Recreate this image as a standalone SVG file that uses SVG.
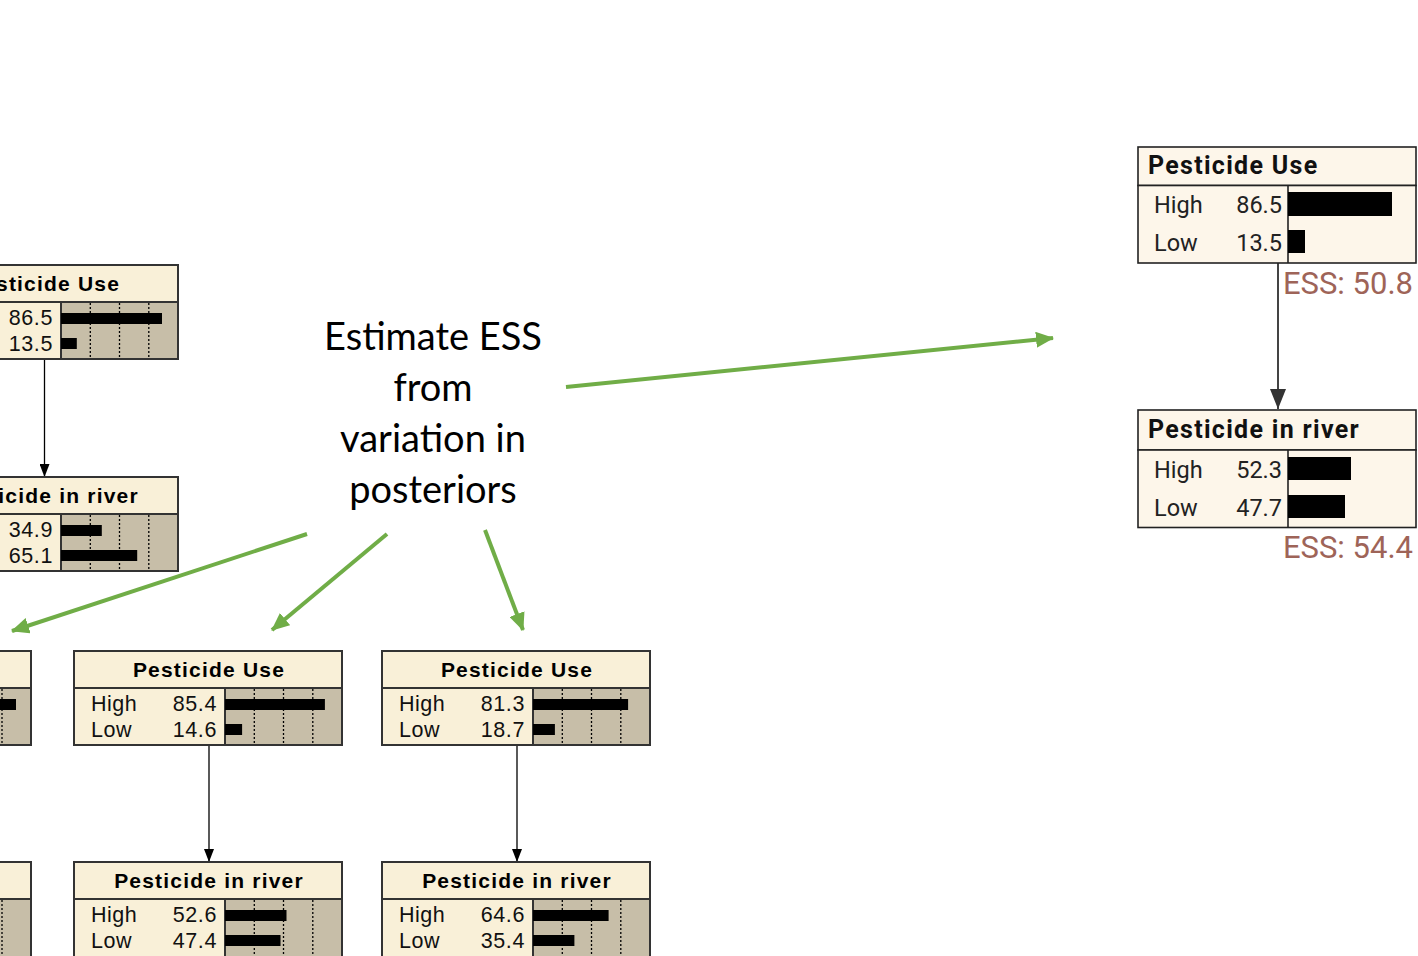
<svg xmlns="http://www.w3.org/2000/svg" width="1418" height="956" viewBox="0 0 1418 956">
<defs>
<marker id="blk" markerWidth="13" markerHeight="10" refX="13" refY="5" orient="auto" markerUnits="userSpaceOnUse" viewBox="0 0 13 10">
<path d="M0,0 L13,5 L0,10 Z" fill="#000"/>
</marker>
<marker id="grn" markerWidth="18" markerHeight="16" refX="17" refY="8" orient="auto" markerUnits="userSpaceOnUse" viewBox="0 0 18 16">
<path d="M0,0 L18,8 L0,16 Z" fill="#70ad47"/>
</marker>
<marker id="gry" markerWidth="20" markerHeight="16" refX="20" refY="8" orient="auto" markerUnits="userSpaceOnUse" viewBox="0 0 20 16">
<path d="M0,0 L20,8 L0,16 Z" fill="#333"/>
</marker>
</defs>
<style>
.ot{fill:#f9f0d8;stroke:#333;stroke-width:2}
.ob{fill:#c7bea8;stroke:#333;stroke-width:2}
.oc{fill:#f9f0d8;stroke:#333;stroke-width:2}
.dot{stroke:#000;stroke-width:1.3;stroke-dasharray:2,2}
.ttl{font-family:"Liberation Sans",Arial,sans-serif;font-weight:bold;font-size:21px;letter-spacing:1.2px;fill:#000;text-anchor:middle}
.lbl{font-family:"Liberation Sans",Arial,sans-serif;font-size:21.5px;letter-spacing:0.5px;fill:#111}
.num{font-family:"Liberation Sans",Arial,sans-serif;font-size:21.5px;letter-spacing:0.6px;fill:#111;text-anchor:end}
.nt{fill:#fdf6ea;stroke:#222;stroke-width:1.6}
.nttl{font-family:Roboto,"Liberation Sans",sans-serif;font-weight:bold;font-size:25px;letter-spacing:1.3px;fill:#111}
.nlbl{font-family:Roboto,"Liberation Sans",sans-serif;font-size:23.5px;fill:#222}
.nnum{font-family:Roboto,"Liberation Sans",sans-serif;font-size:23.5px;fill:#222;text-anchor:end}
.ess{font-family:Roboto,"Liberation Sans",sans-serif;font-size:31px;fill:#9e6458;text-anchor:end}
.big{font-family:Lato,"Open Sans",sans-serif;font-size:38px;fill:#000;text-anchor:middle}
</style>
<rect width="1418" height="956" fill="#fff"/>

<g id="connectors">
<line x1="44.5" y1="359" x2="44.5" y2="477" stroke="#000" stroke-width="1.3" marker-end="url(#blk)"/>
<line x1="209" y1="745" x2="209" y2="862" stroke="#000" stroke-width="1.3" marker-end="url(#blk)"/>
<line x1="517" y1="745" x2="517" y2="862" stroke="#000" stroke-width="1.3" marker-end="url(#blk)"/>
<line x1="1278" y1="263" x2="1278" y2="409" stroke="#444" stroke-width="2" marker-end="url(#gry)"/>
<line x1="566" y1="387" x2="1053" y2="338" stroke="#70ad47" stroke-width="4" marker-end="url(#grn)"/>
<line x1="307" y1="534" x2="12" y2="631" stroke="#70ad47" stroke-width="4" marker-end="url(#grn)"/>
<line x1="387" y1="534" x2="272" y2="630" stroke="#70ad47" stroke-width="4" marker-end="url(#grn)"/>
<line x1="485" y1="530" x2="523" y2="630" stroke="#70ad47" stroke-width="4" marker-end="url(#grn)"/>
</g>

<g id="label-estimate">
<text class="big" x="433" y="350">Estimate ESS</text>
<text class="big" x="433" y="401">from</text>
<text class="big" x="433" y="452">variation in</text>
<text class="big" x="433" y="503">posteriors</text>
</g>

<g id="node-use-left">
<rect class="ot" x="-90" y="265" width="268" height="37"/>
<rect class="oc" x="-90" y="302" width="151" height="57"/>
<rect class="ob" x="61" y="302" width="117" height="57"/>
<line class="dot" x1="90.3" y1="303" x2="90.3" y2="358"/>
<line class="dot" x1="119.5" y1="303" x2="119.5" y2="358"/>
<line class="dot" x1="148.8" y1="303" x2="148.8" y2="358"/>
<rect x="61" y="313" width="101" height="11" fill="#000"/>
<rect x="61" y="338" width="15.8" height="11" fill="#000"/>
<text class="ttl" x="44" y="291">Pesticide Use</text>
<text class="num" x="53" y="325">86.5</text>
<text class="num" x="53" y="351">13.5</text>
</g>

<g id="node-river-left">
<rect class="ot" x="-90" y="477" width="268" height="37"/>
<rect class="oc" x="-90" y="514" width="151" height="57"/>
<rect class="ob" x="61" y="514" width="117" height="57"/>
<line class="dot" x1="90.3" y1="515" x2="90.3" y2="570"/>
<line class="dot" x1="119.5" y1="515" x2="119.5" y2="570"/>
<line class="dot" x1="148.8" y1="515" x2="148.8" y2="570"/>
<rect x="61" y="525" width="40.8" height="11" fill="#000"/>
<rect x="61" y="550" width="76.2" height="11" fill="#000"/>
<text class="ttl" x="44" y="503">Pesticide in river</text>
<text class="num" x="53" y="537">34.9</text>
<text class="num" x="53" y="563">65.1</text>
</g>

<g id="node-use-partial">
<rect class="ot" x="-237" y="651" width="268" height="37"/>
<rect class="oc" x="-237" y="688" width="151" height="57"/>
<rect class="ob" x="-86" y="688" width="117" height="57"/>
<line class="dot" x1="2" y1="689" x2="2" y2="744"/>
<rect x="-86" y="699" width="102" height="11" fill="#000"/>
<rect x="-86" y="724" width="15" height="11" fill="#000"/>
</g>

<g id="node-river-partial">
<rect class="ot" x="-237" y="862" width="268" height="37"/>
<rect class="oc" x="-237" y="899" width="151" height="57"/>
<rect class="ob" x="-86" y="899" width="117" height="60"/>
<line class="dot" x1="2" y1="900" x2="2" y2="956"/>
</g>

<g id="node-use-mid">
<rect class="ot" x="74" y="651" width="268" height="37"/>
<rect class="oc" x="74" y="688" width="151" height="57"/>
<rect class="ob" x="225" y="688" width="117" height="57"/>
<line class="dot" x1="254.3" y1="689" x2="254.3" y2="744"/>
<line class="dot" x1="283.5" y1="689" x2="283.5" y2="744"/>
<line class="dot" x1="312.8" y1="689" x2="312.8" y2="744"/>
<rect x="225" y="699" width="99.9" height="11" fill="#000"/>
<rect x="225" y="724" width="17.1" height="11" fill="#000"/>
<text class="ttl" x="209" y="677">Pesticide Use</text>
<text class="lbl" x="91" y="711">High</text>
<text class="num" x="217" y="711">85.4</text>
<text class="lbl" x="91" y="737">Low</text>
<text class="num" x="217" y="737">14.6</text>
</g>

<g id="node-use-right">
<rect class="ot" x="382" y="651" width="268" height="37"/>
<rect class="oc" x="382" y="688" width="151" height="57"/>
<rect class="ob" x="533" y="688" width="117" height="57"/>
<line class="dot" x1="562.3" y1="689" x2="562.3" y2="744"/>
<line class="dot" x1="591.5" y1="689" x2="591.5" y2="744"/>
<line class="dot" x1="620.8" y1="689" x2="620.8" y2="744"/>
<rect x="533" y="699" width="95.1" height="11" fill="#000"/>
<rect x="533" y="724" width="21.9" height="11" fill="#000"/>
<text class="ttl" x="517" y="677">Pesticide Use</text>
<text class="lbl" x="399" y="711">High</text>
<text class="num" x="525" y="711">81.3</text>
<text class="lbl" x="399" y="737">Low</text>
<text class="num" x="525" y="737">18.7</text>
</g>

<g id="node-river-mid">
<rect class="ot" x="74" y="862" width="268" height="37"/>
<rect class="oc" x="74" y="899" width="151" height="60"/>
<rect class="ob" x="225" y="899" width="117" height="60"/>
<line class="dot" x1="254.3" y1="900" x2="254.3" y2="956"/>
<line class="dot" x1="283.5" y1="900" x2="283.5" y2="956"/>
<line class="dot" x1="312.8" y1="900" x2="312.8" y2="956"/>
<rect x="225" y="910" width="61.5" height="11" fill="#000"/>
<rect x="225" y="935" width="55.5" height="11" fill="#000"/>
<text class="ttl" x="209" y="888">Pesticide in river</text>
<text class="lbl" x="91" y="922">High</text>
<text class="num" x="217" y="922">52.6</text>
<text class="lbl" x="91" y="948">Low</text>
<text class="num" x="217" y="948">47.4</text>
</g>

<g id="node-river-right">
<rect class="ot" x="382" y="862" width="268" height="37"/>
<rect class="oc" x="382" y="899" width="151" height="60"/>
<rect class="ob" x="533" y="899" width="117" height="60"/>
<line class="dot" x1="562.3" y1="900" x2="562.3" y2="956"/>
<line class="dot" x1="591.5" y1="900" x2="591.5" y2="956"/>
<line class="dot" x1="620.8" y1="900" x2="620.8" y2="956"/>
<rect x="533" y="910" width="75.6" height="11" fill="#000"/>
<rect x="533" y="935" width="41.4" height="11" fill="#000"/>
<text class="ttl" x="517" y="888">Pesticide in river</text>
<text class="lbl" x="399" y="922">High</text>
<text class="num" x="525" y="922">64.6</text>
<text class="lbl" x="399" y="948">Low</text>
<text class="num" x="525" y="948">35.4</text>
</g>

<g id="node-use-ess">
<rect class="nt" x="1138" y="147" width="278" height="38.5"/>
<rect class="nt" x="1138" y="185.5" width="278" height="77.5"/>
<line x1="1288" y1="185.5" x2="1288" y2="263" stroke="#222" stroke-width="1.6"/>
<rect x="1288" y="192" width="104" height="24" fill="#000"/>
<rect x="1288" y="230" width="17" height="23" fill="#000"/>
<text class="nttl" x="1148" y="174">Pesticide Use</text>
<text class="nlbl" x="1154" y="213">High</text>
<text class="nnum" x="1282" y="213">86.5</text>
<text class="nlbl" x="1154" y="251">Low</text>
<text class="nnum" x="1282" y="251">13.5</text>
<text class="ess" x="1413" y="294">ESS: 50.8</text>
</g>

<g id="node-river-ess">
<rect class="nt" x="1138" y="410" width="278" height="40"/>
<rect class="nt" x="1138" y="450" width="278" height="77.5"/>
<line x1="1288" y1="450" x2="1288" y2="527.5" stroke="#222" stroke-width="1.6"/>
<rect x="1288" y="457" width="63" height="23" fill="#000"/>
<rect x="1288" y="495" width="57" height="23" fill="#000"/>
<text class="nttl" x="1148" y="438">Pesticide in river</text>
<text class="nlbl" x="1154" y="478">High</text>
<text class="nnum" x="1282" y="478">52.3</text>
<text class="nlbl" x="1154" y="516">Low</text>
<text class="nnum" x="1282" y="516">47.7</text>
<text class="ess" x="1413" y="558">ESS: 54.4</text>
</g>
</svg>
